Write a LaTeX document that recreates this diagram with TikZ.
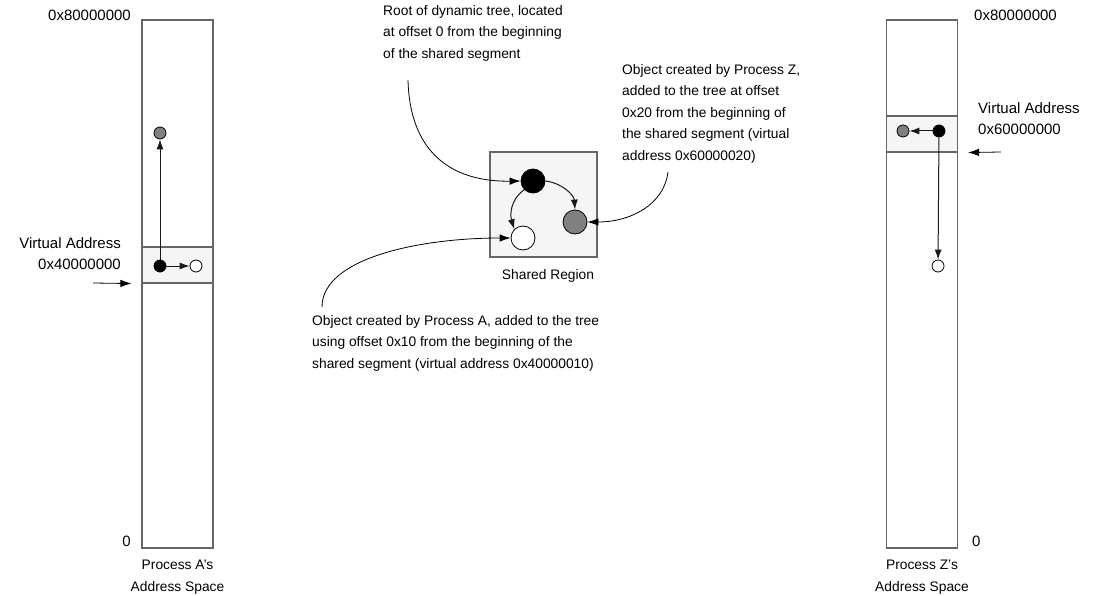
\documentclass[tikz,border=0pt]{standalone}
\usepackage{fontspec}
\setmainfont{Liberation Sans}
\usetikzlibrary{arrows.meta}
\begin{document}
\begin{tikzpicture}[x=1pt,y=-1pt,
  every node/.style={font=\fontsize{13.8}{21.5}\selectfont, inner sep=0pt},
  addr/.style={font=\fontsize{15}{21}\selectfont},
  space/.style={draw=black!60, line width=1.1pt, fill=white, minimum width=71pt, inner sep=0pt},
  band/.style={draw=black!60, line width=1.1pt, fill=black!4, minimum width=71pt, minimum height=36pt},
  region/.style={draw=black!60, line width=1.1pt, fill=black!4, minimum width=107pt, minimum height=105pt},
  dot/.style={circle, draw=black, line width=0.8pt, minimum size=12pt},
  bigdot/.style={circle, draw=black, line width=0.8pt, minimum size=24pt},
  link/.style={draw=black!90, line width=1pt, -{Latex[length=10pt,width=7pt]}},
  note/.style={draw=black, line width=0.8pt, -{Latex[length=11pt,width=7.5pt]}},
  lbl/.style={align=left, anchor=north west}
]
\useasboundingbox (0,0) rectangle (1094,596);

% --- Process A's address space ---
\node[space, minimum height=528pt] (spaceA) at (177.5,284) {};
\node[band] (bandA) at (177.5,265) {};
\node[dot, fill=black] (blackA) at (160,266) {};
\node[dot, fill=black!50] (greyA) at (160,133) {};
\node[dot, fill=white] (whiteA) at (196,266) {};
\draw[link] (blackA) -- (greyA);
\draw[link] (blackA) -- (whiteA);
\node[addr, anchor=east] (topA) at (131,15) {0x80000000};
\node[addr, anchor=east] (zeroA) at (131,541) {0};
\node[addr, anchor=east, align=right] (vaA) at (121,254) {Virtual Address\\0x40000000};
\coordinate (vaAstart) at (93,283);
\draw[note] (vaAstart) -- ([xshift=-10pt]bandA.south west);
\node[align=center] (nameA) at (177.5,577) {Process A's\\Address Space};

% --- Process Z's address space ---
\node[space, minimum height=528pt] (spaceZ) at (922,284) {};
\node[band] (bandZ) at (922,134) {};
\node[dot, fill=black] (blackZ) at (939,131) {};
\node[dot, fill=black!50] (greyZ) at (903,131) {};
\node[dot, fill=white] (whiteZ) at (938,266) {};
\draw[link] (blackZ) -- (greyZ);
\draw[link] (blackZ) -- (whiteZ);
\node[addr, anchor=west] (topZ) at (974,15) {0x80000000};
\node[addr, anchor=west] (zeroZ) at (972,541) {0};
\node[addr, anchor=west, align=left] (vaZ) at (978,119) {Virtual Address\\0x60000000};
\coordinate (vaZstart) at (1001,152);
\draw[note] (vaZstart) -- ([xshift=10pt]bandZ.south east);
\node[align=center] (nameZ) at (922,577) {Process Z's\\Address Space};

% --- Shared region with the tree ---
\node[region] (shared) at (543.5,204.5) {};
\node[bigdot, fill=black] (root) at (533,181) {};
\node[bigdot, fill=black!50] (objZ) at (575,222) {};
\node[bigdot, fill=white] (objA) at (523,238) {};
\draw[link] (root.east) .. controls (562,183) and (574,195) .. (objZ.north);
\draw[link] (root.south west) .. controls (510,200) and (510,215) .. (objA.north west);
\node (sharedlbl) at (548,276) {Shared Region};

% --- Annotations ---
\node[lbl] (rootnote) at (383,5) {Root of dynamic tree, located\\at offset 0 from the beginning\\of the shared segment};
\coordinate (rootstart) at (408,80);
\draw[note] (rootstart) .. controls (410,160) and (460,182) .. (root.west);

\node[lbl] (znote) at (622,64) {Object created by Process Z,\\added to the tree at offset\\0x20 from the beginning of\\the shared segment (virtual\\address 0x60000020)};
\coordinate (zstart) at (668,172);
\draw[note] (zstart) .. controls (664,205) and (630,222) .. (objZ.east);

\node[lbl] (anote) at (312,315) {Object created by Process A, added to the tree\\using offset 0x10 from the beginning of the\\shared segment (virtual address 0x40000010)};
\coordinate (astart) at (322,307);
\draw[note] (astart) .. controls (322,258) and (420,238) .. (objA.west);
\end{tikzpicture}
\end{document}
